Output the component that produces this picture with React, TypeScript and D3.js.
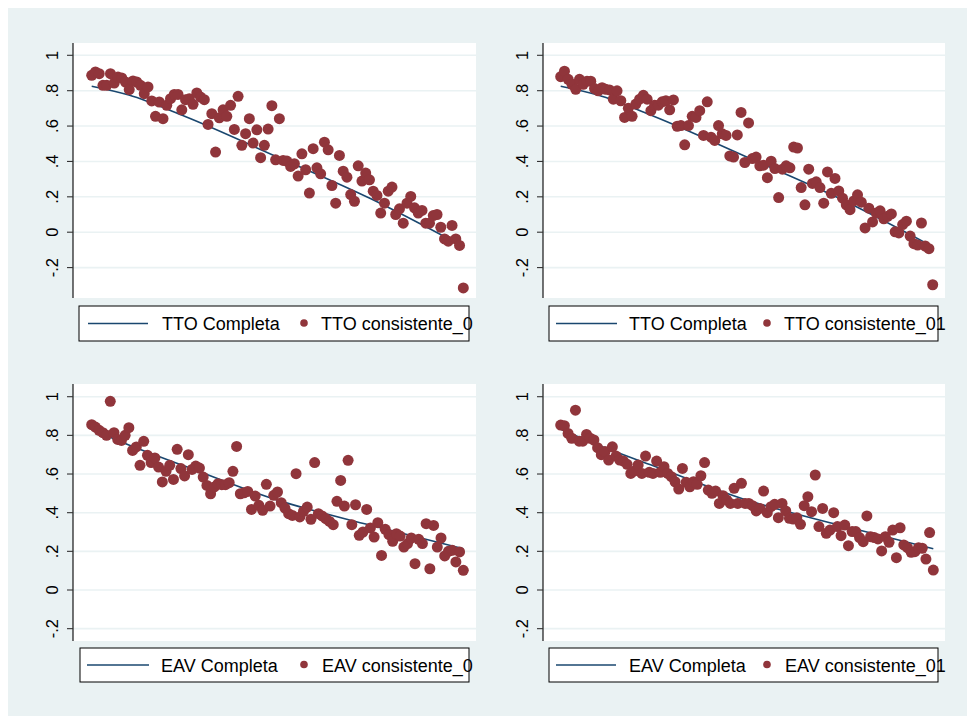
import React from "react";
import * as d3 from "d3";

// y tick values / labels shared by all four panels
const yTicks = [-0.2, 0, 0.2, 0.4, 0.6, 0.8, 1];
const yTickLabels = ["-.2", "0", ".2", ".4", ".6", ".8", "1"];

// "Completa" fitted lines: position along the ordered states (0..1) and value
const ttoCompletaPos = [0, 0.1, 0.25, 0.5, 0.75, 0.985];
const ttoCompletaVal = [0.825, 0.775, 0.655, 0.425, 0.19, -0.065];
const eavCompletaPos = [0, 0.05, 0.1, 0.25, 0.5, 0.75, 1];
const eavCompletaVal = [0.832, 0.79, 0.75, 0.642, 0.465, 0.335, 0.213];

const ttoConsistente0 = [
  0.887, 0.906, 0.896, 0.83, 0.83, 0.896, 0.843, 0.877, 0.872, 0.849,
  0.806, 0.855, 0.849, 0.83, 0.783, 0.821, 0.742, 0.655, 0.736, 0.642,
  0.717, 0.755, 0.779, 0.779, 0.692, 0.749, 0.755, 0.723, 0.787, 0.764,
  0.749, 0.609, 0.67, 0.453, 0.647, 0.692, 0.655, 0.717, 0.581, 0.768,
  0.491, 0.557, 0.642, 0.504, 0.579, 0.421, 0.491, 0.583, 0.715, 0.409,
  0.642, 0.406, 0.402, 0.372, 0.387, 0.317, 0.443, 0.353, 0.221, 0.472,
  0.364, 0.33, 0.509, 0.466, 0.264, 0.164, 0.434, 0.345, 0.311, 0.213,
  0.175, 0.375, 0.289, 0.334, 0.296, 0.232, 0.208, 0.108, 0.164, 0.232,
  0.255, 0.1, 0.132, 0.051, 0.164, 0.202, 0.138, 0.108, 0.123, 0.051,
  0.051, 0.094, 0.1, 0.028, -0.038, -0.051, 0.038, -0.038, -0.075, -0.315,
];

const ttoConsistente01 = [
  0.879, 0.91, 0.864, 0.836, 0.808, 0.864, 0.836, 0.854, 0.854, 0.812,
  0.799, 0.817, 0.808, 0.804, 0.752, 0.799, 0.743, 0.649, 0.7, 0.655,
  0.724, 0.752, 0.774, 0.752, 0.687, 0.718, 0.718, 0.737, 0.743, 0.692,
  0.748, 0.599, 0.603, 0.494, 0.603, 0.655, 0.649, 0.687, 0.547, 0.737,
  0.537, 0.519, 0.603, 0.556, 0.547, 0.431, 0.425, 0.55, 0.677, 0.394,
  0.618, 0.416, 0.425, 0.375, 0.379, 0.308, 0.401, 0.36, 0.196, 0.356,
  0.375, 0.364, 0.481, 0.476, 0.252, 0.155, 0.356, 0.276, 0.285, 0.252,
  0.164, 0.341, 0.22, 0.304, 0.233, 0.192, 0.155, 0.127, 0.177, 0.211,
  0.17, 0.024, 0.136, 0.058, 0.108, 0.121, 0.076, 0.09, 0.103, 0.002,
  -0.004, 0.043, 0.062, -0.022, -0.065, -0.073, 0.052, -0.078, -0.093, -0.297,
];

const eavConsistente0 = [
  0.855, 0.843, 0.826, 0.814, 0.8, 0.976, 0.814, 0.779, 0.774, 0.8,
  0.84, 0.722, 0.74, 0.645, 0.769, 0.697, 0.659, 0.683, 0.636, 0.559,
  0.614, 0.645, 0.572, 0.728, 0.628, 0.59, 0.7, 0.624, 0.641, 0.631,
  0.584, 0.541, 0.498, 0.533, 0.55, 0.545, 0.545, 0.555, 0.614, 0.743,
  0.498, 0.503, 0.51, 0.417, 0.486, 0.438, 0.412, 0.547, 0.434, 0.49,
  0.507, 0.452, 0.424, 0.395, 0.386, 0.602, 0.378, 0.407, 0.429, 0.366,
  0.659, 0.395, 0.383, 0.369, 0.355, 0.338, 0.459, 0.567, 0.434, 0.671,
  0.338, 0.441, 0.283, 0.3, 0.417, 0.321, 0.274, 0.348, 0.179, 0.314,
  0.286, 0.252, 0.291, 0.279, 0.222, 0.24, 0.269, 0.136, 0.262, 0.24,
  0.343, 0.11, 0.334, 0.222, 0.269, 0.176, 0.2, 0.205, 0.145, 0.197,
  0.102,
];

const eavConsistente01 = [
  0.853, 0.85, 0.81, 0.785, 0.93, 0.77, 0.77, 0.805, 0.785, 0.776,
  0.736, 0.7, 0.716, 0.672, 0.741, 0.693, 0.672, 0.667, 0.65, 0.603,
  0.616, 0.647, 0.603, 0.693, 0.609, 0.603, 0.667, 0.609, 0.638, 0.603,
  0.586, 0.56, 0.522, 0.629, 0.557, 0.534, 0.56, 0.547, 0.591, 0.659,
  0.517, 0.5, 0.512, 0.448, 0.488, 0.466, 0.448, 0.526, 0.448, 0.552,
  0.448, 0.448, 0.436, 0.409, 0.422, 0.512, 0.4, 0.431, 0.443, 0.374,
  0.448, 0.409, 0.371, 0.367, 0.374, 0.34, 0.436, 0.483, 0.405, 0.595,
  0.328, 0.422, 0.293, 0.31, 0.4, 0.328, 0.281, 0.336, 0.229, 0.302,
  0.302, 0.271, 0.25, 0.383, 0.276, 0.271, 0.264, 0.202, 0.276, 0.247,
  0.31, 0.167, 0.322, 0.233, 0.219, 0.195, 0.198, 0.219, 0.216, 0.16,
  0.297, 0.103,
];

const BG = "#EAF2F3";
const NAVY = "#1A476F";
const MAROON = "#90353B";
const FONT = "'Liberation Sans', Arial, Helvetica, sans-serif";

type Panel = {
  points: number[];
  linePos: number[];
  lineVal: number[];
  names: [string, string];
  plot: { x0: number; x1: number; y0: number; y1: number };
  yZero: number;
  yOne: number;
  xFirst: number;
  xLast: number;
  labelX: number;
  legend: { x0: number; x1: number; y0: number; y1: number; la: number; lb: number; t1: number; dot: number; t2: number };
};

const panels: Panel[] = [
  {
    points: ttoConsistente0,
    linePos: ttoCompletaPos,
    lineVal: ttoCompletaVal,
    names: ["TTO Completa", "TTO consistente_0"],
    plot: { x0: 73, x1: 476, y0: 43, y1: 298 },
    yZero: 232.2,
    yOne: 55.3,
    xFirst: 91.7,
    xLast: 463.3,
    labelX: 58,
    legend: { x0: 79, x1: 469, y0: 306, y1: 341, la: 88, lb: 148, t1: 162, dot: 304, t2: 321 },
  },
  {
    points: ttoConsistente01,
    linePos: ttoCompletaPos,
    lineVal: ttoCompletaVal,
    names: ["TTO Completa", "TTO consistente_01"],
    plot: { x0: 543, x1: 945, y0: 43, y1: 298 },
    yZero: 232.2,
    yOne: 55.3,
    xFirst: 560.7,
    xLast: 932.7,
    labelX: 528,
    legend: { x0: 549, x1: 938, y0: 306, y1: 341, la: 556, lb: 617, t1: 629, dot: 767, t2: 784 },
  },
  {
    points: eavConsistente0,
    linePos: eavCompletaPos,
    lineVal: eavCompletaVal,
    names: ["EAV Completa", "EAV consistente_0"],
    plot: { x0: 73, x1: 476, y0: 384, y1: 641 },
    yZero: 590,
    yOne: 396.7,
    xFirst: 91.7,
    xLast: 463.3,
    labelX: 58,
    legend: { x0: 80, x1: 469, y0: 648, y1: 682, la: 87, lb: 149, t1: 161, dot: 304, t2: 322 },
  },
  {
    points: eavConsistente01,
    linePos: eavCompletaPos,
    lineVal: eavCompletaVal,
    names: ["EAV Completa", "EAV consistente_01"],
    plot: { x0: 543, x1: 945, y0: 384, y1: 641 },
    yZero: 590,
    yOne: 396.7,
    xFirst: 560.7,
    xLast: 933.3,
    labelX: 528,
    legend: { x0: 549, x1: 938, y0: 648, y1: 682, la: 556, lb: 616, t1: 629, dot: 767, t2: 785 },
  },
];

const PanelView: React.FC<{ p: Panel }> = ({ p }) => {
  const x = d3.scaleLinear().domain([0, 1]).range([p.xFirst, p.xLast]);
  const y = d3.scaleLinear().domain([0, 1]).range([p.yZero, p.yOne]);
  const n = p.points.length;
  const line = d3
    .line<number>()
    .x((_, i) => x(p.linePos[i]))
    .y((d) => y(d))
    .curve(d3.curveMonotoneX);
  const { plot, legend } = p;
  const lcy = (legend.y0 + legend.y1) / 2;

  return (
    <g>
      <rect x={plot.x0} y={plot.y0} width={plot.x1 - plot.x0} height={plot.y1 - plot.y0} fill="#fff" />
      {yTicks.map((t) => (
        <line key={"g" + t} x1={plot.x0} x2={plot.x1} y1={y(t)} y2={y(t)} stroke={BG} strokeWidth={1.6} />
      ))}
      <line x1={plot.x0} x2={plot.x0} y1={plot.y0} y2={plot.y1} stroke="#000" strokeWidth={1.1} />
      {yTicks.map((t, i) => (
        <g key={"t" + t}>
          <line x1={plot.x0 - 6} x2={plot.x0} y1={y(t)} y2={y(t)} stroke="#333" strokeWidth={1.1} />
          <text
            transform={`translate(${p.labelX},${y(t)}) rotate(-90)`}
            textAnchor="middle"
            fontSize={16.5}
            fontFamily={FONT}
            fill="#000"
          >
            {yTickLabels[i]}
          </text>
        </g>
      ))}
      <path d={line(p.lineVal) || ""} fill="none" stroke={NAVY} strokeWidth={1.6} />
      {p.points.map((v, i) => (
        <circle key={i} cx={x(i / (n - 1))} cy={y(v)} r={5.5} fill={MAROON} />
      ))}
      <rect
        x={legend.x0}
        y={legend.y0}
        width={legend.x1 - legend.x0}
        height={legend.y1 - legend.y0}
        fill="#fff"
        stroke="#000"
        strokeWidth={1}
      />
      <line x1={legend.la} x2={legend.lb} y1={lcy} y2={lcy} stroke={NAVY} strokeWidth={1.6} />
      <text x={legend.t1} y={lcy + 6.5} fontSize={18} fontFamily={FONT} fill="#000">
        {p.names[0]}
      </text>
      <circle cx={legend.dot} cy={lcy - 0.5} r={3.8} fill={MAROON} />
      <text x={legend.t2} y={lcy + 6.5} fontSize={18} fontFamily={FONT} fill="#000">
        {p.names[1]}
      </text>
    </g>
  );
};

export default function App() {
  return (
    <svg
      width={967}
      height={716}
      style={{ position: "absolute", left: 0, top: 0, display: "block" }}
    >
      <rect x={0} y={0} width={967} height={716} fill="#fff" />
      <rect x={8} y={8} width={959} height={708} fill={BG} />
      {panels.map((p, i) => (
        <PanelView key={i} p={p} />
      ))}
    </svg>
  );
}
